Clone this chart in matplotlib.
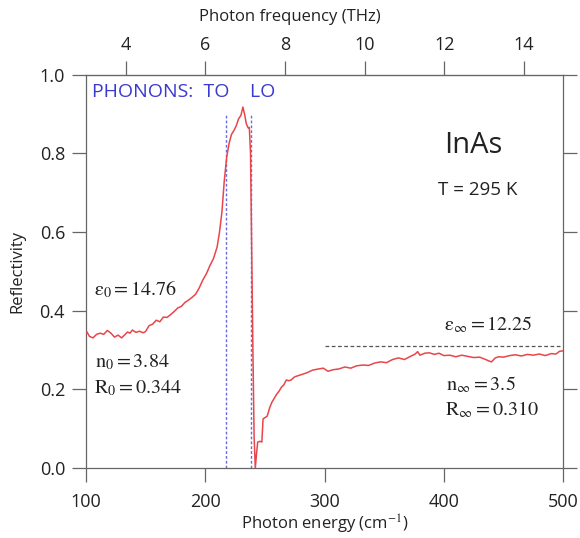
import matplotlib
matplotlib.use("Agg")
import matplotlib.pyplot as plt

plt.rcParams['font.family'] = ['Open Sans', 'DejaVu Sans']
plt.rcParams['mathtext.fontset'] = 'stix'

# reflectivity spectrum of InAs
wavenumber = [100, 101, 103, 106, 109, 112, 115, 118, 121, 124, 127, 130, 133, 135, 137, 139,
              142, 145, 148, 150, 153, 156, 159, 162, 165, 168, 171, 174, 177, 180, 183, 186,
              189, 192, 195, 198, 201, 204, 207, 210, 212, 214, 216, 218, 220, 222, 224, 226,
              228, 230, 231.6, 233, 234.5, 236, 237, 238, 239, 240, 241, 242, 243, 244, 246,
              247.5, 248.5, 250, 252, 254, 256, 258, 260, 262, 264, 266, 268, 270, 272, 275,
              278, 281, 285, 290, 295, 299, 303, 307, 312, 317, 322, 327, 332, 337, 342, 347,
              352, 357, 362, 367, 372, 376, 378, 380, 384, 388, 392, 396, 400, 405, 410, 415,
              420, 425, 430, 435, 438, 440, 443, 446, 450, 455, 460, 465, 470, 475, 480, 485,
              490, 494, 497, 500]
reflect = [0.345, 0.346, 0.335, 0.331, 0.340, 0.343, 0.340, 0.350, 0.343, 0.333, 0.338, 0.331,
           0.340, 0.346, 0.343, 0.351, 0.345, 0.348, 0.344, 0.347, 0.362, 0.366, 0.376, 0.372,
           0.384, 0.383, 0.390, 0.398, 0.407, 0.411, 0.421, 0.427, 0.434, 0.442, 0.458, 0.478,
           0.494, 0.515, 0.533, 0.562, 0.600, 0.650, 0.730, 0.790, 0.825, 0.848, 0.858, 0.870,
           0.888, 0.897, 0.918, 0.900, 0.875, 0.865, 0.866, 0.80, 0.55, 0.30, 0.08, 0.0, 0.035,
           0.066, 0.068, 0.066, 0.125, 0.128, 0.132, 0.153, 0.168, 0.178, 0.188, 0.196, 0.206,
           0.212, 0.224, 0.222, 0.224, 0.232, 0.235, 0.238, 0.242, 0.249, 0.252, 0.254, 0.246,
           0.250, 0.252, 0.257, 0.254, 0.260, 0.262, 0.261, 0.267, 0.270, 0.268, 0.276, 0.280,
           0.276, 0.284, 0.290, 0.296, 0.287, 0.292, 0.293, 0.289, 0.292, 0.286, 0.287, 0.283,
           0.287, 0.284, 0.281, 0.282, 0.276, 0.272, 0.270, 0.280, 0.283, 0.282, 0.286, 0.288,
           0.285, 0.289, 0.287, 0.290, 0.286, 0.291, 0.290, 0.297, 0.298]

phonons = [217.3, 238.3]      # TO, LO  (cm^-1)
r_inf = 0.310
x_ticks = [100, 200, 300, 400, 500]
y_ticks = [0.0, 0.2, 0.4, 0.6, 0.8, 1.0]
thz_ticks = [4, 6, 8, 10, 12, 14]
CM_PER_THZ = 33.356

fig = plt.figure(figsize=(5.8, 5.38), dpi=100)
ax = fig.add_axes([0.148, 0.130, 0.823, 0.731])

ax.plot(wavenumber, reflect, color='#e8464a', lw=1.1, zorder=3)
for xp in phonons:
    ax.axvline(xp, ymin=0, ymax=0.9, color='#6a6ae0', lw=1.0, ls=(0, (2.0, 1.5)), zorder=2)
ax.plot([300, 500], [r_inf, r_inf], color='#555555', lw=0.9, ls=(0, (3, 2)))

ax.set_xlim(100, 500)
ax.set_ylim(0, 1)
ax.set_xticks(x_ticks)
ax.set_yticks(y_ticks)
ax.set_yticklabels(['%.1f' % v for v in y_ticks])
ax.tick_params(direction='out', length=10, width=0.9, colors='#666666',
               labelcolor='#222222', labelsize=13, right=True)
ax.tick_params(axis='x', pad=8)
ax.tick_params(axis='y', pad=5)
for s in ax.spines.values():
    s.set_color('#666666')
    s.set_linewidth(0.9)

ax.set_xlabel('Photon energy (cm$^{-1}$)', fontsize=12, labelpad=1, color='#222222')
ax.set_ylabel('Reflectivity', fontsize=12, labelpad=10, color='#222222')

top = ax.secondary_xaxis('top', functions=(lambda w: w / CM_PER_THZ, lambda f: f * CM_PER_THZ))
top.set_xticks(thz_ticks)
top.tick_params(direction='out', length=10, width=0.9, colors='#666666',
                labelcolor='#222222', labelsize=13, pad=5)
top.spines['top'].set_color('#666666')
fig.text(290 / 580, 1 - 17 / 538, 'Photon frequency (THz)', fontsize=12,
         ha='center', va='center', color='#222222')

ax.text(105, 0.955, 'PHONONS:  TO    LO', color='#3a3ad0', fontsize=14, va='center')
ax.text(425, 0.82, 'InAs', fontsize=21, ha='center', va='center', color='#222222')
ax.text(428, 0.707, 'T = 295 K', fontsize=13.5, ha='center', va='center', color='#222222')

serif = dict(fontsize=14.5, color='#222222', va='center')
ax.text(107, 0.453, r'$\mathrm{\varepsilon_0 = 14.76}$', **serif)
ax.text(108, 0.270, r'$\mathrm{n_0 = 3.84}$', **serif)
ax.text(107, 0.204, r'$\mathrm{R_0 = 0.344}$', **serif)
ax.text(400, 0.364, r'$\mathrm{\varepsilon_{\infty} = 12.25}$', **serif)
ax.text(402, 0.211, r'$\mathrm{n_{\infty} = 3.5}$', **serif)
ax.text(401, 0.148, r'$\mathrm{R_{\infty} = 0.310}$', **serif)

fig.savefig('out.png', dpi=100)
